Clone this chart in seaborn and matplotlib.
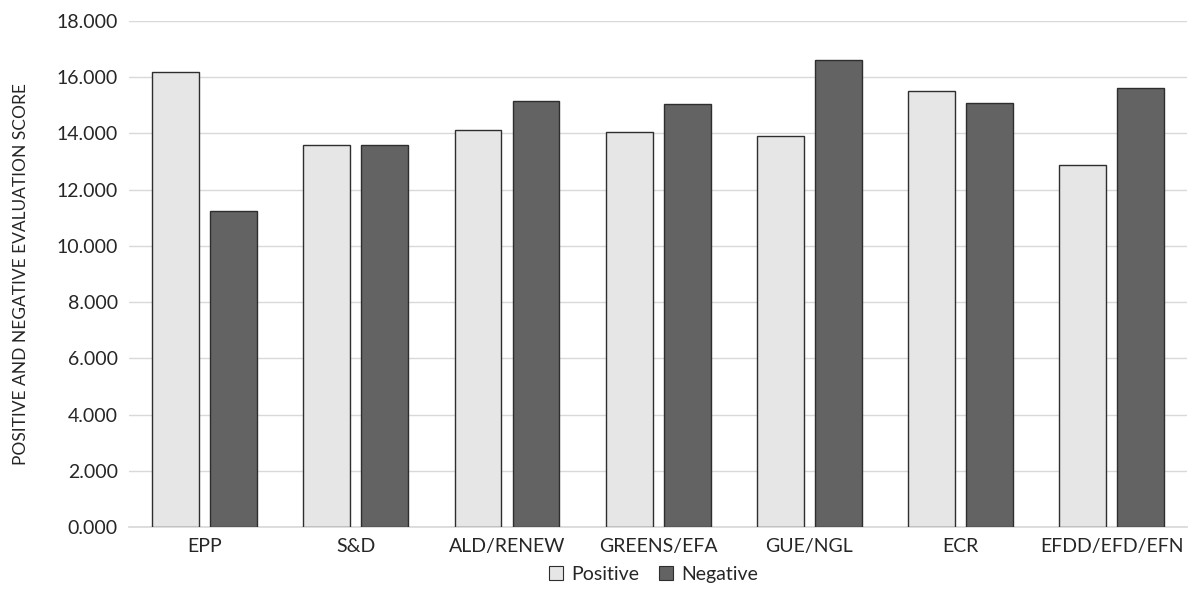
import matplotlib.pyplot as plt
import pandas as pd
import seaborn as sns
from matplotlib.patches import Patch
from matplotlib.ticker import FormatStrFormatter

groups = ["EPP", "S&D", "ALD/RENEW", "GREENS/EFA", "GUE/NGL", "ECR", "EFDD/EFD/EFN"]
positive = [16.20, 13.60, 14.12, 14.06, 13.90, 15.52, 12.86]
negative = [11.25, 13.60, 15.16, 15.04, 16.62, 15.10, 15.61]
series = ["Positive", "Negative"]
colors = ["#e6e6e6", "#636363"]

df = pd.DataFrame({"group": groups, "Positive": positive, "Negative": negative})
df = df.melt(id_vars="group", var_name="kind", value_name="score")

sns.set_theme(style="white")
plt.rcParams["font.family"] = ["Lato", "DejaVu Sans"]

fig = plt.figure(figsize=(11.92, 6.10), dpi=100)
ax = fig.add_axes([0.1082, 0.136, 0.888, 0.8296])

sns.barplot(
    data=df,
    x="group",
    y="score",
    hue="kind",
    hue_order=series,
    palette=colors,
    width=0.767,
    gap=0.19,
    edgecolor="#2e2e2e",
    linewidth=1.0,
    legend=False,
    ax=ax,
    zorder=3,
)

ax.set_xlim(-0.5, 6.5)
ax.set_ylim(0, 18)
ax.set_yticks(range(0, 19, 2))
ax.yaxis.set_major_formatter(FormatStrFormatter("%.3f"))
ax.grid(axis="y", color="#d9d9d9", linewidth=1.0, zorder=0)
ax.set_axisbelow(True)
for side in ["top", "right", "left"]:
    ax.spines[side].set_visible(False)
ax.spines["bottom"].set_color("#d9d9d9")
ax.tick_params(axis="both", length=0, labelsize=14, colors="#262626", pad=8)
ax.set_xlabel("")
ax.set_ylabel("POSITIVE AND NEGATIVE EVALUATION SCORE", fontsize=12.5, color="#262626", labelpad=20)

handles = [Patch(facecolor=c, edgecolor="#2e2e2e", linewidth=0.8, label=s) for c, s in zip(colors, series)]
fig.legend(
    handles=handles,
    loc="center",
    bbox_to_anchor=(0.548, 0.059),
    ncol=2,
    frameon=False,
    fontsize=14,
    handlelength=0.75,
    handleheight=0.75,
    handletextpad=0.4,
    columnspacing=1.0,
)

fig.savefig("out.png", dpi=100)
